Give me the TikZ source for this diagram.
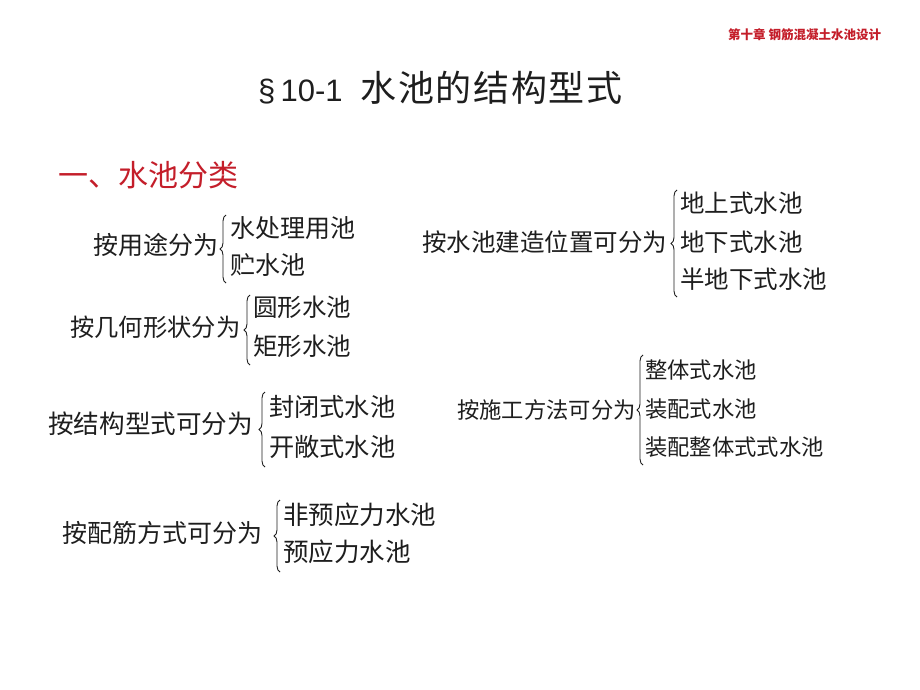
\documentclass[tikz,border=0pt]{standalone}
\usepackage{fontspec}
\setmainfont{Liberation Serif}
\newfontfamily\cjk{Noto Sans CJK SC}
\newfontfamily\cjktitle[LetterSpace=4.5]{Noto Sans CJK SC}
\newfontfamily\latinsans{Liberation Sans}
\usetikzlibrary{decorations.pathreplacing}
\definecolor{hdred}{RGB}{196,30,42}
\definecolor{ink}{RGB}{30,30,30}
\begin{document}
\begin{tikzpicture}[x=1pt,y=-1pt,
  txt/.style={inner sep=0pt, anchor=west, text=ink,
    font=\cjk\fontsize{#1}{#1}\selectfont,
    text height={0.88*#1}, text depth={0.12*#1}},
  brc/.style={draw=ink, line width=0.9pt,
    decorate, decoration={brace, amplitude=6pt, aspect=0.5}}]
\useasboundingbox[fill=white] (0,0) rectangle (920,690);

% header and titles
\node[txt=12.5, text=hdred, font=\cjk\bfseries\fontsize{12.5}{12.5}\selectfont] (hdr) at (728,35) {第十章 钢筋混凝土水池设计};
\node[txt=36, font=\fontsize{36}{36}\selectfont] (title) at (258,88)
  {{\latinsans\fontsize{31}{31}\selectfont §\,10-1}\hspace{18pt}{\cjktitle 水池的结构型式}};
\node[txt=30, text=hdred] (sec) at (58,175) {一、水池分类};

% group 1
\node[txt=25] (g1) at (93,245) {按用途分为};
\coordinate (b1t) at (226,215); \coordinate (b1b) at (226,283);
\draw[brc] (b1b) -- (b1t);
\node[txt=25] (g1a) at (230,228) {水处理用池};
\node[txt=25] (g1b) at (230,265) {贮水池};

% group 2
\node[txt=24.5] (g2) at (422,242) {按水池建造位置可分为};
\coordinate (b2t) at (677,190); \coordinate (b2b) at (677,297);
\draw[brc] (b2b) -- (b2t);
\node[txt=24.5] (g2a) at (680,203) {地上式水池};
\node[txt=24.5] (g2b) at (680,242) {地下式水池};
\node[txt=24.5] (g2c) at (680,279) {半地下式水池};

% group 3
\node[txt=24.3] (g3) at (70,327) {按几何形状分为};
\coordinate (b3t) at (250,295); \coordinate (b3b) at (250,365);
\draw[brc] (b3b) -- (b3t);
\node[txt=24.5] (g3a) at (253,307) {圆形水池};
\node[txt=24.5] (g3b) at (253,346) {矩形水池};

% group 4
\node[txt=25.6] (g4) at (48,424) {按结构型式可分为};
\coordinate (b4t) at (265,392); \coordinate (b4b) at (265,467);
\draw[brc] (b4b) -- (b4t);
\node[txt=25.2] (g4a) at (269,407) {封闭式水池};
\node[txt=25.2] (g4b) at (269,447) {开敞式水池};

% group 5
\node[txt=22.3] (g5) at (457,410) {按施工方法可分为};
\coordinate (b5t) at (643,355); \coordinate (b5b) at (643,465);
\draw[brc] (b5b) -- (b5t);
\node[txt=22.3] (g5a) at (645,370) {整体式水池};
\node[txt=22.3] (g5b) at (645,409) {装配式水池};
\node[txt=22.3] (g5c) at (645,447) {装配整体式式水池};

% group 6
\node[txt=25] (g6) at (62,533) {按配筋方式可分为};
\coordinate (b6t) at (280,500); \coordinate (b6b) at (280,572);
\draw[brc] (b6b) -- (b6t);
\node[txt=25.5] (g6a) at (283,515) {非预应力水池};
\node[txt=25.5] (g6b) at (283,552) {预应力水池};
\end{tikzpicture}
\end{document}
